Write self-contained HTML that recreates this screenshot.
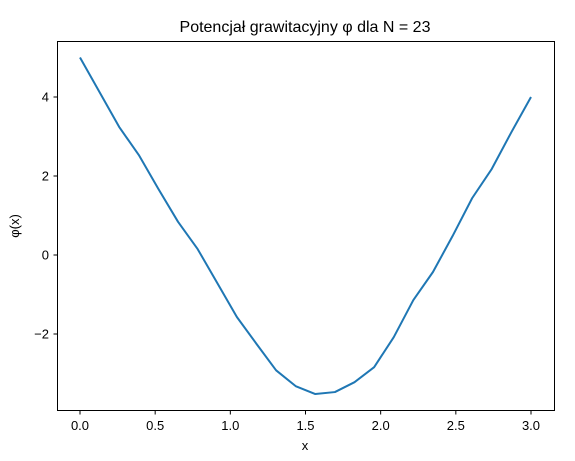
<!DOCTYPE html>
<html><head><meta charset="utf-8">
<style>
html,body{margin:0;padding:0;background:#fff;}
svg text{font-family:"Liberation Sans","DejaVu Sans",sans-serif;fill:#000;}
</style></head>
<body>
<svg id="chart" width="575" height="456" xmlns="http://www.w3.org/2000/svg">
<text x="305" y="32" font-size="16" text-anchor="middle">Potencjał grawitacyjny φ dla N = 23</text>
<rect x="57.5" y="41.5" width="497" height="369" fill="none" stroke="#000" stroke-width="1"/>
<g id="xticks"></g>
<g id="yticks"></g>
<text x="305" y="450" font-size="13" text-anchor="middle">x</text>
<text transform="translate(19,226) rotate(-90)" font-size="13" text-anchor="middle">φ(x)</text>
<path id="line" fill="none" stroke="#1f77b4" stroke-width="2" stroke-linejoin="round"/>
</svg>
<script>
const phiValues = [5.0,4.12,3.24,2.53,1.67,0.84,0.15,-0.71,-1.57,-2.25,-2.92,-3.32,-3.52,-3.47,-3.22,-2.84,-2.08,-1.14,-0.43,0.48,1.44,2.18,3.11,4.0];
const xTickValues = [0,0.5,1,1.5,2,2.5,3];
const xTickLabels = ["0.0","0.5","1.0","1.5","2.0","2.5","3.0"];
const yTickValues = [-2,0,2,4];
const yTickLabels = ["\u22122","0","2","4"];
const xMax = 3;

function sx(v){return 80 + v*(531-80)/3;}
function sy(v){return 255 - v*39.5;}
const ns="http://www.w3.org/2000/svg";
const n = phiValues.length;
let d="";
phiValues.forEach((v,i)=>{const x=xMax*i/(n-1);d+=(i?"L":"M")+sx(x).toFixed(2)+","+sy(v).toFixed(2);});
document.getElementById('line').setAttribute('d',d);

const xg=document.getElementById('xticks');
xTickValues.forEach((v,i)=>{
  const l=document.createElementNS(ns,'line');
  
  
  l.setAttribute('x1',sx(v));l.setAttribute('x2',sx(v));l.setAttribute('y1',411);l.setAttribute('y2',414.5);l.setAttribute('stroke','#000');
  xg.appendChild(l);
  const t=document.createElementNS(ns,'text');
  
  
  t.setAttribute('x',sx(v));t.setAttribute('y',430);t.setAttribute('font-size','13');t.setAttribute('text-anchor','middle');
  t.textContent=xTickLabels[i];xg.appendChild(t);
});
const yg=document.getElementById('yticks');
yTickValues.forEach((v,i)=>{
  const l=document.createElementNS(ns,'line');
  
  
  l.setAttribute('x1',53.5);l.setAttribute('x2',57.5);l.setAttribute('y1',sy(v));l.setAttribute('y2',sy(v));l.setAttribute('stroke','#000');
  yg.appendChild(l);
  const t=document.createElementNS(ns,'text');
  
  
  t.setAttribute('x',49);t.setAttribute('y',sy(v)+4.5);t.setAttribute('font-size','13');t.setAttribute('text-anchor','end');
  t.textContent=yTickLabels[i];yg.appendChild(t);
});
</script>
</body></html>
